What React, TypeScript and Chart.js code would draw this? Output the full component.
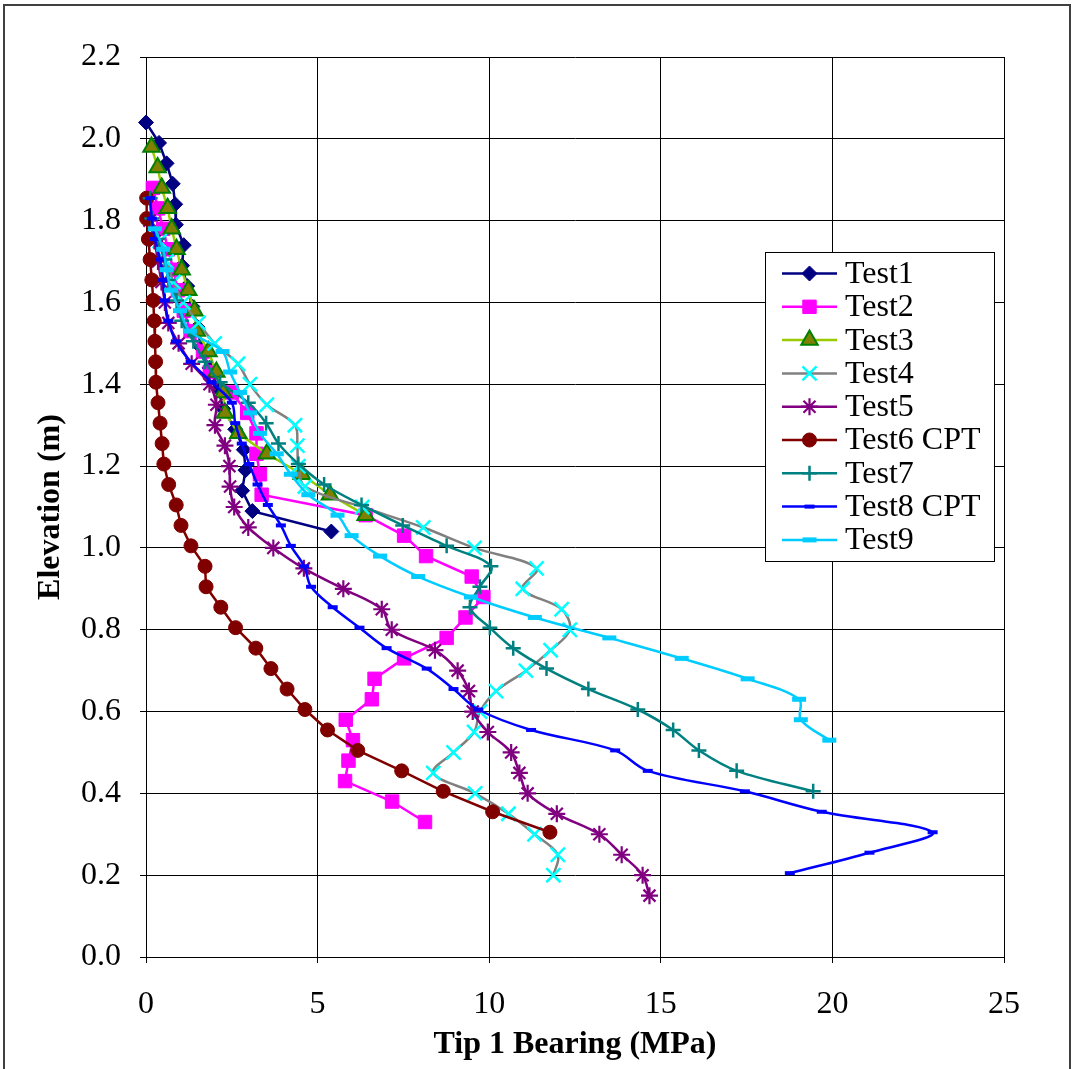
import React, { useEffect, useRef } from 'react';
import { Chart, registerables } from 'chart.js';
import { drawPoint } from 'chart.js/helpers';

Chart.register(...registerables);

// ---------------- DATA ----------------
const seriesNames = ['Test1', 'Test2', 'Test3', 'Test4', 'Test5', 'Test6 CPT', 'Test7', 'Test8 CPT', 'Test9'];

const xTicks = [0, 5, 10, 15, 20, 25];
const yTicks = [0.0, 0.2, 0.4, 0.6, 0.8, 1.0, 1.2, 1.4, 1.6, 1.8, 2.0, 2.2];

const test1Elev = [2.04, 1.99, 1.94, 1.89, 1.84, 1.79, 1.74, 1.69, 1.64, 1.59, 1.54, 1.49, 1.44, 1.39, 1.34, 1.29, 1.24, 1.19, 1.14, 1.09, 1.04];
const test1Tip = [0.0, 0.38, 0.6, 0.78, 0.85, 0.87, 1.1, 1.05, 1.2, 1.35, 1.5, 1.6, 1.85, 2.1, 2.25, 2.6, 2.85, 2.9, 2.8, 3.1, 5.4];

const test2Elev = [1.88, 1.83, 1.78, 1.73, 1.68, 1.63, 1.58, 1.53, 1.48, 1.43, 1.38, 1.33, 1.28, 1.23, 1.18, 1.13, 1.08, 1.03, 0.98, 0.93, 0.88, 0.83, 0.78, 0.73, 0.68, 0.63, 0.58, 0.53, 0.48, 0.43, 0.38, 0.33];
const test2Tip = [0.2, 0.35, 0.5, 0.64, 0.8, 0.93, 1.1, 1.3, 1.66, 1.86, 2.5, 2.95, 3.22, 3.22, 3.32, 3.37, 6.4, 7.52, 8.16, 9.49, 9.83, 9.31, 8.76, 7.52, 6.66, 6.58, 5.82, 6.03, 5.9, 5.8, 7.17, 8.13];

const test3Elev = [1.98, 1.93, 1.88, 1.83, 1.78, 1.73, 1.68, 1.63, 1.58, 1.53, 1.48, 1.43, 1.38, 1.33, 1.28, 1.23, 1.18, 1.13, 1.08];
const test3Tip = [0.16, 0.34, 0.46, 0.63, 0.75, 0.89, 1.04, 1.23, 1.41, 1.48, 1.82, 2.05, 2.25, 2.3, 2.69, 3.52, 4.54, 5.36, 6.4];

const test4Elev = [1.75, 1.70, 1.65, 1.60, 1.55, 1.50, 1.45, 1.40, 1.35, 1.30, 1.25, 1.20, 1.15, 1.10, 1.05, 1.00, 0.95, 0.90, 0.85, 0.80, 0.75, 0.70, 0.65, 0.60, 0.55, 0.50, 0.45, 0.40, 0.35, 0.30, 0.25, 0.20];
const test4Tip = [0.4, 0.6, 0.8, 1.09, 1.53, 2.0, 2.68, 3.03, 3.52, 4.34, 4.41, 4.44, 4.63, 6.3, 8.08, 9.57, 11.38, 10.98, 12.11, 12.35, 11.79, 11.07, 10.2, 9.73, 9.56, 8.96, 8.37, 9.59, 10.56, 11.32, 12.0, 11.87];

const test5Elev = [1.80, 1.75, 1.70, 1.65, 1.60, 1.55, 1.50, 1.45, 1.40, 1.35, 1.30, 1.25, 1.20, 1.15, 1.10, 1.05, 1.00, 0.95, 0.90, 0.85, 0.80, 0.75, 0.70, 0.65, 0.60, 0.55, 0.50, 0.45, 0.40, 0.35, 0.30, 0.25, 0.20, 0.15];
const test5Tip = [0.1, 0.25, 0.35, 0.45, 0.55, 0.65, 0.95, 1.33, 1.85, 2.05, 2.01, 2.3, 2.43, 2.45, 2.57, 2.98, 3.71, 4.6, 5.75, 6.87, 7.16, 8.42, 9.08, 9.41, 9.52, 9.96, 10.64, 10.88, 11.12, 11.97, 13.21, 13.86, 14.47, 14.67];

const test6Elev = [1.855, 1.805, 1.755, 1.705, 1.655, 1.605, 1.555, 1.505, 1.455, 1.405, 1.355, 1.305, 1.255, 1.205, 1.155, 1.105, 1.055, 1.005, 0.955, 0.905, 0.855, 0.805, 0.755, 0.705, 0.655, 0.605, 0.555, 0.505, 0.455, 0.405, 0.355, 0.305];
const test6Tip = [0.02, 0.02, 0.07, 0.12, 0.17, 0.21, 0.24, 0.26, 0.28, 0.29, 0.35, 0.41, 0.47, 0.52, 0.66, 0.88, 1.02, 1.31, 1.72, 1.75, 2.18, 2.61, 3.2, 3.64, 4.11, 4.63, 5.29, 6.17, 7.45, 8.66, 10.1, 11.77];

const test7Elev = [1.855, 1.805, 1.755, 1.705, 1.655, 1.605, 1.555, 1.505, 1.455, 1.405, 1.355, 1.305, 1.255, 1.205, 1.155, 1.105, 1.055, 1.005, 0.955, 0.905, 0.855, 0.805, 0.755, 0.705, 0.655, 0.605, 0.555, 0.505, 0.455, 0.405];
const test7Tip = [0.12, 0.17, 0.33, 0.55, 0.65, 0.89, 1.04, 1.38, 1.72, 2.16, 2.98, 3.5, 3.86, 4.44, 5.19, 6.28, 7.48, 8.76, 10.05, 9.73, 9.44, 10.02, 10.7, 11.67, 12.89, 14.33, 15.36, 16.11, 17.21, 19.44];

const test8Elev = [1.855, 1.805, 1.755, 1.705, 1.655, 1.605, 1.555, 1.505, 1.455, 1.405, 1.355, 1.305, 1.255, 1.205, 1.155, 1.105, 1.055, 1.005, 0.955, 0.905, 0.855, 0.805, 0.755, 0.705, 0.655, 0.605, 0.555, 0.505, 0.455, 0.405, 0.355, 0.305, 0.255, 0.205];
const test8Tip = [0.12, 0.17, 0.26, 0.41, 0.5, 0.55, 0.65, 0.87, 1.3, 1.91, 2.5, 2.6, 2.79, 3.01, 3.25, 3.55, 3.93, 4.22, 4.61, 4.81, 5.44, 6.22, 7.01, 8.18, 8.96, 9.68, 11.22, 13.67, 14.62, 17.45, 19.69, 22.92, 21.08, 18.76];

const test9Elev = [1.78, 1.73, 1.68, 1.63, 1.58, 1.53, 1.48, 1.43, 1.38, 1.33, 1.28, 1.23, 1.18, 1.13, 1.08, 1.03, 0.98, 0.93, 0.88, 0.83, 0.78, 0.73, 0.68, 0.63, 0.58, 0.53];
const test9Tip = [0.26, 0.5, 0.6, 0.73, 0.99, 1.28, 2.23, 2.45, 2.74, 3.03, 3.32, 3.81, 4.22, 4.73, 5.58, 5.99, 6.82, 7.93, 9.47, 11.33, 13.5, 15.61, 17.53, 19.03, 19.08, 19.91];

const elevations = [test1Elev, test2Elev, test3Elev, test4Elev, test5Elev, test6Elev, test7Elev, test8Elev, test9Elev];
const tips = [test1Tip, test2Tip, test3Tip, test4Tip, test5Tip, test6Tip, test7Tip, test8Tip, test9Tip];

// ---------------- STYLES ----------------
type Sty = { line: string; fill: string; stroke: string; style: any; radius: number; pbw: number; tension: number };
const styles: Sty[] = [
  { line: '#000080', fill: '#000080', stroke: '#000080', style: 'rectRot', radius: 7.5, pbw: 1, tension: 0 },
  { line: '#FF00FF', fill: '#FF00FF', stroke: '#FF00FF', style: 'rect', radius: 9.5, pbw: 1, tension: 0 },
  { line: '#99CC00', fill: '#808000', stroke: '#008000', style: 'triangle', radius: 9.5, pbw: 2, tension: 0 },
  { line: '#808080', fill: 'rgba(0,0,0,0)', stroke: '#00FFFF', style: 'crossRot', radius: 10, pbw: 2.5, tension: 0.35 },
  { line: '#800080', fill: 'rgba(0,0,0,0)', stroke: '#800080', style: 'star', radius: 8.5, pbw: 2.2, tension: 0.35 },
  { line: '#800000', fill: '#800000', stroke: '#800000', style: 'circle', radius: 7, pbw: 1, tension: 0 },
  { line: '#008080', fill: 'rgba(0,0,0,0)', stroke: '#008080', style: 'cross', radius: 7.5, pbw: 2.5, tension: 0.35 },
  { line: '#0000FF', fill: '#0000FF', stroke: '#0000FF', style: 'line', radius: 5, pbw: 4, tension: 0.35 },
  { line: '#00CCFF', fill: '#00CCFF', stroke: '#00CCFF', style: 'line', radius: 7, pbw: 5, tension: 0.35 },
];

const W = 1073;
const H = 1069;
const FONT = '"Liberation Serif", "Times New Roman", serif';
const FS = 32;

const framePlugin = {
  id: 'frame',
  beforeDraw(chart: any) {
    const ctx = chart.ctx;
    ctx.save();
    ctx.fillStyle = '#fff';
    ctx.fillRect(0, 0, W, H);
    ctx.strokeStyle = '#404040';
    ctx.lineWidth = 2;
    ctx.beginPath();
    ctx.moveTo(4, H + 5);
    ctx.lineTo(4, 5);
    ctx.lineTo(1070, 5);
    ctx.lineTo(1070, H + 5);
    ctx.stroke();
    ctx.restore();
  },
};

const legendPlugin = {
  id: 'boxLegend',
  afterDraw(chart: any) {
    const ctx = chart.ctx;
    ctx.save();
    const bx = 765.5, by = 252.5, bw = 229, bh = 309;
    ctx.fillStyle = '#fff';
    ctx.fillRect(bx, by, bw, bh);
    ctx.strokeStyle = '#000';
    ctx.lineWidth = 1;
    ctx.strokeRect(bx, by, bw, bh);
    seriesNames.forEach((name, i) => {
      const s = styles[i];
      const y = 273.5 + i * 33.3;
      ctx.strokeStyle = s.line;
      ctx.lineWidth = 2.5;
      ctx.beginPath();
      ctx.moveTo(782, y);
      ctx.lineTo(837, y);
      ctx.stroke();
      ctx.fillStyle = s.fill;
      ctx.strokeStyle = s.stroke;
      ctx.lineWidth = s.pbw;
      drawPoint(ctx, { pointStyle: s.style, radius: s.radius, borderWidth: s.pbw, rotation: 0 } as any, 809.5, y);
      ctx.fillStyle = '#000';
      ctx.font = `${FS}px ${FONT}`;
      ctx.textBaseline = 'middle';
      ctx.textAlign = 'left';
      ctx.fillText(name, 845, y + 1);
    });
    ctx.restore();
  },
};

export default function App() {
  const ref = useRef<HTMLCanvasElement>(null);
  useEffect(() => {
    const datasets = seriesNames.map((name, i) => {
      const s = styles[i];
      return {
        label: name,
        data: elevations[i].map((y, k) => ({ x: tips[i][k], y })),
        showLine: true,
        borderColor: s.line,
        borderWidth: 2.5,
        backgroundColor: s.fill,
        pointStyle: s.style,
        pointRadius: s.radius,
        pointHoverRadius: s.radius,
        pointBackgroundColor: s.fill,
        pointBorderColor: s.stroke,
        pointBorderWidth: s.pbw,
        tension: s.tension,
        clip: false as any,
        order: seriesNames.length - i,
      };
    });
    const chart = new Chart(ref.current!, {
      type: 'scatter',
      data: { datasets },
      options: {
        animation: false,
        responsive: false,
        devicePixelRatio: 1,
        layout: { padding: { left: 0, top: 57, right: 69, bottom: 0 } },
        plugins: { legend: { display: false }, tooltip: { enabled: false } },
        scales: {
          x: {
            type: 'linear',
            min: 0,
            max: 25,
            afterBuildTicks: (scale: any) => { scale.ticks = xTicks.map((v) => ({ value: v })); },
            afterFit: (scale: any) => { scale.height = 112; },
            ticks: { color: '#000', font: { family: FONT, size: FS }, padding: 22, maxRotation: 0 },
            grid: { color: '#000', lineWidth: 1, tickLength: 6 },
            border: { color: '#000', width: 1 },
            title: { display: true, text: 'Tip 1 Bearing (MPa)', color: '#000', font: { family: FONT, size: FS, weight: 'bold' }, padding: { top: 0, bottom: 5 } },
          },
          y: {
            type: 'linear',
            min: 0,
            max: 2.2,
            afterBuildTicks: (scale: any) => { scale.ticks = yTicks.map((v) => ({ value: v })); },
            afterFit: (scale: any) => { scale.width = 146; },
            ticks: { color: '#000', font: { family: FONT, size: FS }, padding: 19, callback: (v: any) => Number(v).toFixed(1) },
            grid: { color: '#000', lineWidth: 1, tickLength: 6 },
            border: { color: '#000', width: 1 },
            title: { display: true, text: 'Elevation (m)', color: '#000', font: { family: FONT, size: FS, weight: 'bold' }, padding: { top: 32, bottom: 0 } },
          },
        },
      } as any,
      plugins: [framePlugin, legendPlugin],
    });
    return () => chart.destroy();
  }, []);
  return (
    <div style={{ position: 'absolute', left: 0, top: 0, width: W, height: H, background: '#fff' }}>
      <canvas ref={ref} width={W} height={H} style={{ width: W, height: H, display: 'block' }} />
    </div>
  );
}
